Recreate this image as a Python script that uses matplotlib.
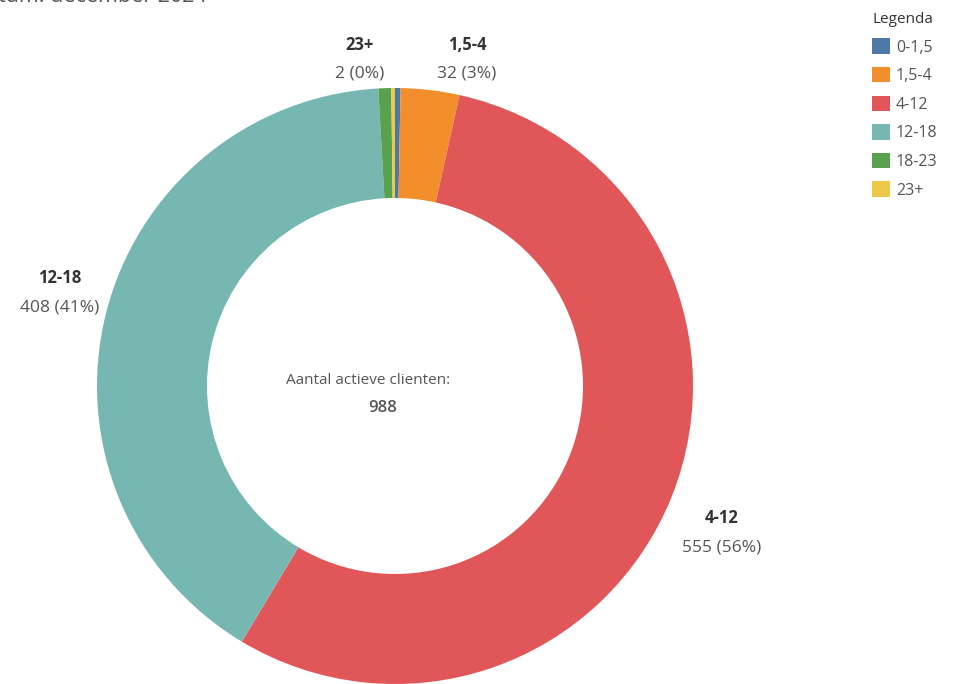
import matplotlib
matplotlib.use("Agg")
import matplotlib.pyplot as plt
from matplotlib.patches import Patch

categories = ["0-1,5", "1,5-4", "4-12", "12-18", "18-23", "23+"]
values = [3, 32, 555, 408, 7, 2]
colors = ["#4e79a7", "#f28e2b", "#e15759", "#76b7b2", "#59a14f", "#edc948"]
label_texts = {"23+": "2 (0%)", "1,5-4": "32 (3%)", "12-18": "408 (41%)", "4-12": "555 (56%)"}
total_label = "988"

plt.rcParams['font.family'] = ['Open Sans', 'DejaVu Sans']

W, H = 957, 684
fig = plt.figure(figsize=(W / 100, H / 100), dpi=100)
ax = fig.add_axes([0, 0, 1, 1])

cx, cy, R = 395, H - 386, 298
ax.pie(values, colors=colors, startangle=90, counterclock=False,
       center=(cx, cy), radius=R, wedgeprops=dict(width=110, linewidth=0),
       frame=True)
ax.set_xlim(0, W)
ax.set_ylim(0, H)
ax.set_aspect('equal')
ax.axis('off')

dark = "#333333"
grey = "#555555"

# slice labels
pos = {"23+": (360, 45), "1,5-4": (467, 45), "12-18": (60, 278), "4-12": (722, 518)}
for cat, (x, y) in pos.items():
    ax.text(x, H - y, cat, ha='center', va='center', fontsize=12, fontweight='bold', color=dark)
    ax.text(x, H - y - 29, label_texts[cat], ha='center', va='center', fontsize=12.5, color=grey)

# center
ax.text(368, H - 380, "Aantal actieve clienten:", ha='center', va='center', fontsize=11, color=grey)
ax.text(383, H - 408, total_label, ha='center', va='center', fontsize=12, fontweight='semibold', color=grey)

# cut-off title (cropped in the reference)
ax.text(-2, H + 4, "tum: december 2024", ha='left', va='center', fontsize=15.5, color=grey)

handles = [Patch(facecolor=c, edgecolor='none') for c in colors]
leg = fig.legend(handles, categories, title="Legenda", loc='upper left',
                 bbox_to_anchor=(872 / W, 1 - 12 / H), frameon=False,
                 fontsize=11.5, title_fontsize=11, handlelength=1.1, handleheight=1.1,
                 handletextpad=0.4, labelspacing=0.72, borderaxespad=0, borderpad=0,
                 alignment='left')
for t in leg.get_texts():
    t.set_color(grey)
leg.get_title().set_color(dark)

fig.savefig("out.png", dpi=100)
